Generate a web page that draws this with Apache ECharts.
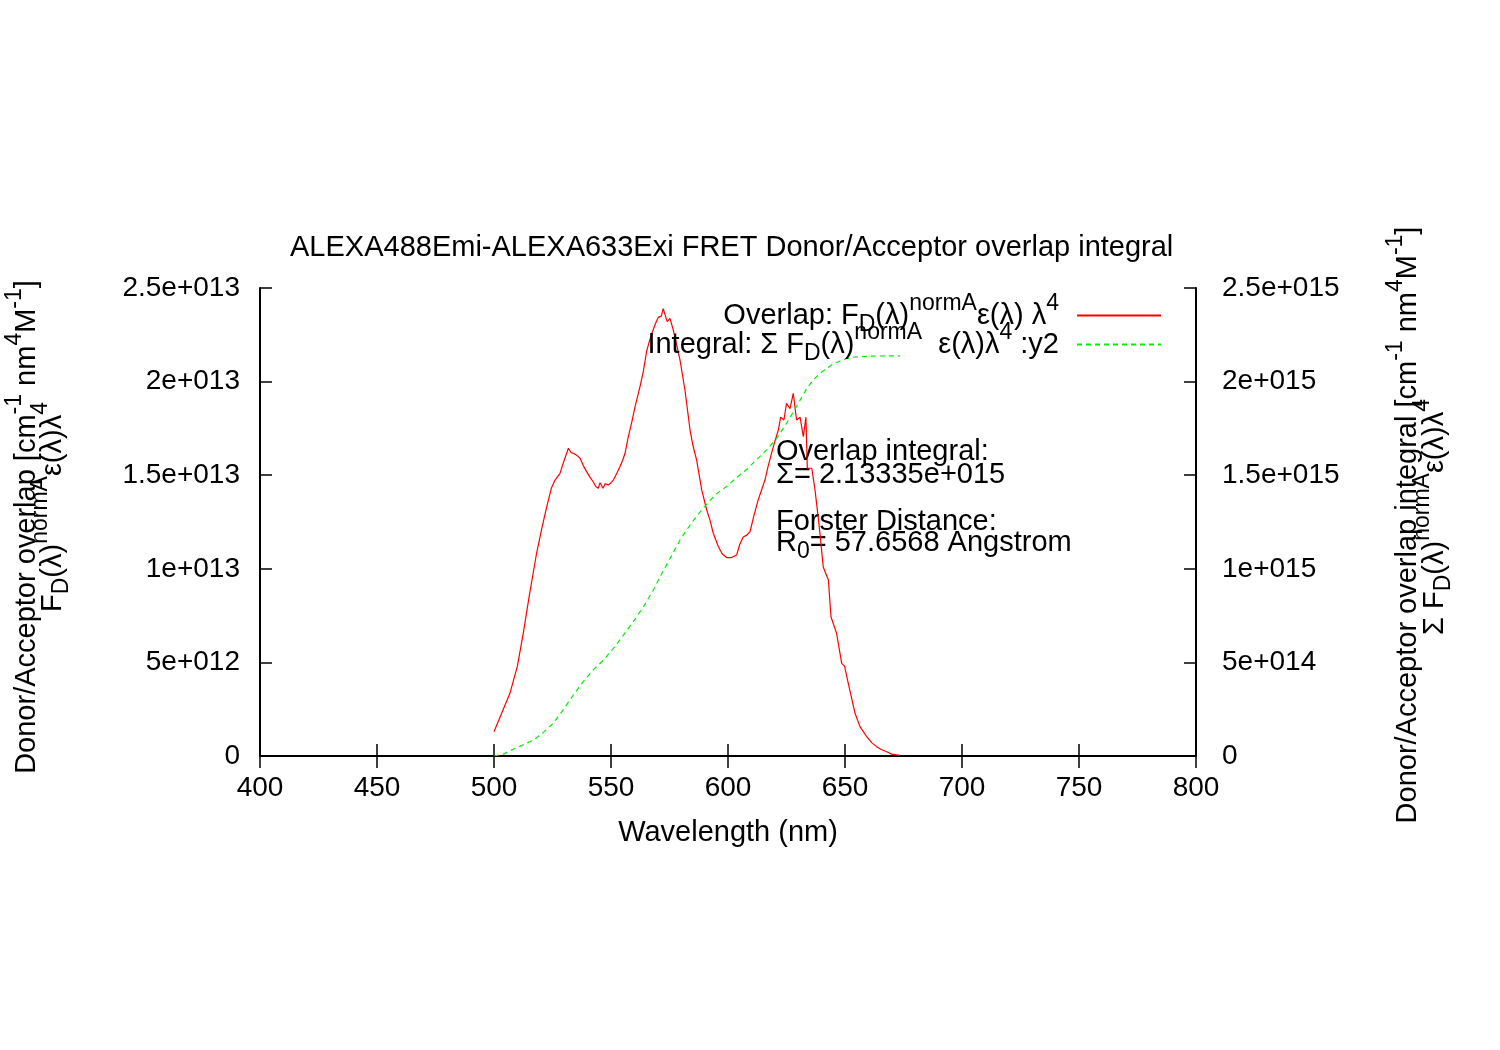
<!DOCTYPE html>
<html>
<head>
<meta charset="utf-8">
<script src="https://cdn.jsdelivr.net/npm/echarts@6/dist/echarts.min.js"></script>
<style>
  html, body { margin: 0; padding: 0; background: #fff; }
  #main { width: 1500px; height: 1050px; }
</style>
</head>
<body>
<div id="main"></div>
<script>
// overlap F_D(λ)^normA ε(λ) λ^4, left axis (units of 1e12)
const overlapNm = [500, 503, 506.8, 510, 512.5, 515, 518.2, 520.5, 522.5, 524.5, 526.1, 528.2, 530, 531.8, 533, 533.9,
  535.5, 536.8, 538.2, 539.6, 541, 542.4, 543.5, 544.6, 545.3, 546, 546.6, 547.5, 548.9, 550, 551, 552.5, 553.8, 555,
  556, 557.4, 559, 560.3, 562.4, 563.8, 565.2, 566.5, 568, 569, 570.2, 571.5, 572.3, 573.1, 574, 575.2, 576.6, 578,
  579.5, 581.6, 583.8, 585, 586.6, 588.8, 590.9, 592.3, 593.7, 595.9, 597.5, 599.4, 601.5, 603.7, 605, 606.5, 608,
  609.4, 611, 612.9, 615.8, 617, 618.6, 620, 621.5, 622.5, 623.9, 625, 626.5, 627.9, 629.3, 630.8, 632.2, 633.3,
  633.9, 635.8, 637.2, 638.5, 639.3, 640.7, 642.9, 644, 646.4, 648.6, 649.8, 651.4, 653, 654.3, 656.4, 659.3, 661.5,
  663.5, 665.5, 667.8, 670, 673.5];
const overlapVal = [1.3, 2.2, 3.35, 4.8, 6.55, 8.5, 10.83, 12.2, 13.3, 14.3, 14.74, 15.1, 15.8, 16.44, 16.2, 16.17,
  16.05, 15.9, 15.5, 15.19, 14.9, 14.65, 14.4, 14.3, 14.6, 14.62, 14.3, 14.55, 14.48, 14.6, 14.74, 15.1, 15.45, 15.8,
  16.17, 17.06, 17.9, 18.66, 19.73, 20.53, 21.6, 22.2, 22.76, 23.1, 23.43, 23.5, 23.9, 23.8, 23.2, 23.38, 22.76, 22.0,
  21.15, 19.55, 17.4, 16.6, 15.8, 14.2, 13.14, 12.6, 11.9, 11.18, 10.8, 10.6, 10.6, 10.74, 11.3, 11.7, 11.8,
  11.98, 12.8, 13.68, 14.74, 15.4, 16.17, 16.8, 17.4, 18.1, 17.95, 18.84, 18.55, 19.37, 17.95, 18.1, 17.06, 18.1,
  15.37, 15.37, 14.2, 12.8, 11.9, 10.1, 9.4, 7.44, 6.55, 4.95, 4.8, 3.88, 3.0, 2.28, 1.57, 1.03, 0.7,
  0.5, 0.35, 0.23, 0.1, 0.03];

// running integral, right axis (units of 1e15)
const integralNm = [500, 504, 508.2, 512, 516.8, 521, 525.3, 529.5, 533.9, 538, 542.4, 547, 551, 555, 559.5, 564,
  568.1, 571.5, 575, 579.5, 582.3, 586.5, 590.9, 595, 599.4, 603.5, 607.9, 612, 616.5, 621, 625, 628, 630.8, 633.5,
  636.5, 639.5, 642.2, 645, 647.9, 650.5, 653.5, 657.5, 662, 668, 673.5];
const integralVal = [0, 0.01, 0.036, 0.057, 0.085, 0.125, 0.175, 0.245, 0.326, 0.395, 0.46, 0.515, 0.575, 0.64, 0.717, 0.8,
  0.887, 0.97, 1.05, 1.154, 1.207, 1.28, 1.345, 1.4, 1.44, 1.485, 1.53, 1.58, 1.635, 1.7, 1.777, 1.84, 1.9, 1.96,
  2.01, 2.045, 2.07, 2.095, 2.11, 2.122, 2.13, 2.134, 2.1365, 2.1373, 2.1373];

const leftTicks = ['0', '5e+012', '1e+013', '1.5e+013', '2e+013', '2.5e+013'];
const rightTicks = ['0', '5e+014', '1e+015', '1.5e+015', '2e+015', '2.5e+015'];

const FONT = 'Liberation Sans';
const rich = {
  sup: { fontSize: 23, fontFamily: FONT, color: '#000', padding: [0, 0, 24, 0] },
  supEnd: { fontSize: 23, fontFamily: FONT, color: '#000', padding: [0, 13, 24, 0] },
  sub: { fontSize: 23, fontFamily: FONT, color: '#000', padding: [18, 0, 0, 0] },
  t: { fontSize: 29, fontFamily: FONT, color: '#000' },
  tEnd: { fontSize: 29, fontFamily: FONT, color: '#000', padding: [0, 13, 0, 0] }
}

const chart = echarts.init(document.getElementById('main'))

const axisLine = { show: true, lineStyle: { color: '#000', width: 2 } }
const tick = { show: true, inside: true, length: 12, lineStyle: { color: '#000', width: 1.5 } }

const txt = (x, y, text, extra) => ({
  type: 'text', x: x, y: y, silent: true,
  style: Object.assign({ text: text, font: '29px ' + FONT, fill: '#000', rich: rich }, extra || {})
})

const legendBase = {
  right: 338, padding: 0, itemWidth: 84, itemHeight: 14, align: 'right',
  itemStyle: { opacity: 0 },
  textStyle: { fontSize: 29, fontFamily: FONT, color: '#000', rich: rich }
}

chart.setOption({
  animation: false,
  backgroundColor: '#fff',
  title: {
    text: 'ALEXA488Emi-ALEXA633Exi FRET Donor/Acceptor overlap integral',
    left: 285, top: 228,
    textStyle: { fontFamily: FONT, fontSize: 29, fontWeight: 'normal', color: '#000' }
  },
  grid: { left: 260, right: 304, top: 288, bottom: 294 },
  legend: [Object.assign({}, legendBase, {
    data: ['Overlap'], top: 292,
    formatter: () => '{t|Overlap: F}{sub|D}{t|(λ)}{sup|normA}{t|ε(λ) λ}{supEnd|4}'
  }), Object.assign({}, legendBase, {
    data: ['Integral'], top: 321,
    formatter: () => '{t|Integral: Σ F}{sub|D}{t|(λ)}{sup|normA}{t|  ε(λ)λ}{sup|4}{tEnd| :y2}'
  })],
  xAxis: [{
    type: 'value', min: 400, max: 800, interval: 50, position: 'bottom',
    name: 'Wavelength (nm)', nameLocation: 'middle', nameGap: 62,
    nameTextStyle: { fontFamily: FONT, fontSize: 29, color: '#000' },
    axisLine: axisLine, axisTick: tick, splitLine: { show: false },
    axisLabel: { fontFamily: FONT, fontSize: 28, color: '#000', margin: 18 }
  }, {
    type: 'value', min: 400, max: 800, interval: 50, position: 'top',
    axisLine: axisLine, axisTick: tick, splitLine: { show: false }, axisLabel: { show: false }
  }],
  yAxis: [{
    type: 'value', min: 0, max: 25, interval: 5, position: 'left',
    axisLine: axisLine, axisTick: tick, splitLine: { show: false },
    axisLabel: { fontFamily: FONT, fontSize: 28, color: '#000', margin: 20,
      formatter: v => leftTicks[Math.round(v / 5)] }
  }, {
    type: 'value', min: 0, max: 2.5, interval: 0.5, position: 'right',
    axisLine: axisLine, axisTick: tick, splitLine: { show: false },
    axisLabel: { fontFamily: FONT, fontSize: 28, color: '#000', margin: 26,
      formatter: v => rightTicks[Math.round(v / 0.5)] }
  }],
  series: [{
    name: 'Overlap', type: 'line', xAxisIndex: 0, yAxisIndex: 0, symbol: 'none',
    lineStyle: { color: '#ff0000', width: 1.2 }, itemStyle: { color: '#ff0000' },
    data: overlapNm.map((x, i) => [x, overlapVal[i]])
  }, {
    name: 'Integral', type: 'line', xAxisIndex: 0, yAxisIndex: 1, symbol: 'none',
    lineStyle: { color: '#00ee00', width: 1.2, type: [5, 4] }, itemStyle: { color: '#00ee00' },
    data: integralNm.map((x, i) => [x, integralVal[i]])
  }],
  graphic: [
    txt(776, 452, 'Overlap integral:', { verticalAlign: 'middle' }),
    txt(776, 475, 'Σ= 2.13335e+015', { verticalAlign: 'middle' }),
    txt(776, 522, 'Forster Distance:', { verticalAlign: 'middle' }),
    txt(776, 543, '{t|R}{sub|0}{t|= 57.6568 Angstrom}', { verticalAlign: 'middle' }),
    // left axis title (two overlapping lines, as in the original)
    Object.assign(txt(27, 527, '{t|Donor/Acceptor overlap [cm}{sup|-1}{t| nm}{sup|4}{t|M}{sup|-1}{t|]}',
      { align: 'center', verticalAlign: 'middle' }), { rotation: Math.PI / 2 }),
    Object.assign(txt(53, 507, '{t|F}{sub|D}{t|(λ)}{sup|normA}{t|ε(λ)λ}{sup|4}',
      { align: 'center', verticalAlign: 'middle' }), { rotation: Math.PI / 2 }),
    // right axis title
    Object.assign(txt(1408, 525, '{t|Donor/Acceptor overlap integral [cm}{sup|-1}{t| nm}{sup|4}{t|M}{sup|-1}{t|]}',
      { align: 'center', verticalAlign: 'middle' }), { rotation: Math.PI / 2 }),
    Object.assign(txt(1435, 517, '{t|Σ F}{sub|D}{t|(λ)}{sup|normA}{t|ε(λ)λ}{sup|4}',
      { align: 'center', verticalAlign: 'middle' }), { rotation: Math.PI / 2 })
  ]
})
</script>
</body>
</html>
